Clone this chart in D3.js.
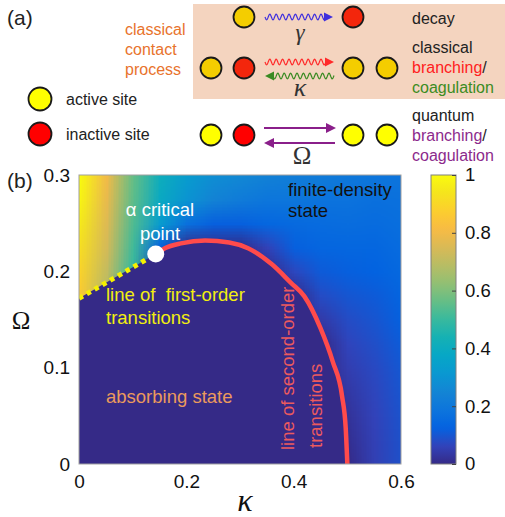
<!DOCTYPE html>
<html>
<head>
<meta charset="utf-8" />
<title>Phase diagram</title>
<script src="https://d3js.org/d3.v7.min.js"></script>
<style>
  body { margin: 0; background: white; }
  text { font-family: "Liberation Sans", Arial, sans-serif; }
</style>
</head>
<body>
<svg id="chart" width=505 height=517></svg>
<script>

// ---- data ----
var kappaTicks = [0, 0.2, 0.4, 0.6];
var omegaTicks = [0, 0.1, 0.2, 0.3];
var cbarTicks = [0, 0.2, 0.4, 0.6, 0.8, 1];

// line of first-order transitions (kappa, Omega)
var firstOrderKappa = [0, 0.143];
var firstOrderOmega = [0.172, 0.218];

// line of second-order transitions
var secondOrderKappa = [0.143, 0.16, 0.19, 0.235, 0.28, 0.315, 0.36, 0.395, 0.42, 0.45, 0.473, 0.49, 0.497, 0.5];
var secondOrderOmega = [0.218, 0.224, 0.229, 0.232, 0.230, 0.224, 0.207, 0.188, 0.174, 0.141, 0.106, 0.071, 0.037, 0];

// density samples, one row per Omega, one column per kappa
var gridKappa = [0, 0.05, 0.1, 0.15, 0.2, 0.25, 0.3, 0.35, 0.4, 0.45, 0.5, 0.55, 0.6];
var gridOmega = [0, 0.025, 0.05, 0.075, 0.1, 0.125, 0.15, 0.175, 0.2, 0.225, 0.25, 0.275, 0.3];
var density = [
  [0, 0, 0, 0, 0, 0, 0, 0, 0, 0, 0, 0.055, 0.088],
  [0, 0, 0, 0, 0, 0, 0, 0, 0, 0, 0.012, 0.058, 0.09],
  [0, 0, 0, 0, 0, 0, 0, 0, 0, 0, 0.022, 0.062, 0.093],
  [0, 0, 0, 0, 0, 0, 0, 0, 0, 0, 0.036, 0.068, 0.097],
  [0, 0, 0, 0, 0, 0, 0, 0, 0, 0, 0.05, 0.075, 0.103],
  [0, 0, 0, 0, 0, 0, 0, 0, 0, 0, 0.065, 0.085, 0.112],
  [0.84, 0, 0, 0, 0, 0, 0, 0, 0, 0.04, 0.08, 0.097, 0.122],
  [0.86, 0.68, 0, 0, 0, 0, 0, 0, 0, 0.08, 0.1, 0.11, 0.132],
  [0.89, 0.71, 0.49, 0, 0, 0, 0, 0, 0.07, 0.11, 0.12, 0.125, 0.145],
  [0.92, 0.74, 0.51, 0.12, 0, 0, 0, 0.06, 0.12, 0.135, 0.14, 0.14, 0.155],
  [0.95, 0.76, 0.53, 0.33, 0.17, 0.12, 0.12, 0.14, 0.15, 0.155, 0.16, 0.155, 0.165],
  [0.98, 0.78, 0.55, 0.39, 0.3, 0.24, 0.21, 0.19, 0.19, 0.18, 0.18, 0.17, 0.175],
  [1.0, 0.8, 0.56, 0.41, 0.33, 0.28, 0.26, 0.235, 0.22, 0.21, 0.2, 0.19, 0.185]
];

// parula colormap
var parula = ["#352a87", "#3243ba", "#0363e1", "#0d75dc", "#1485d4", "#0998d1", "#06a7c6", "#15b1b4",
  "#38b99e", "#65be86", "#92bf73", "#b7bd64", "#d9ba56", "#f8bb44", "#fcce2e", "#f5e41d", "#f9fb0e"];

var svg = d3.select("#chart");
var plotL = 79, plotR = 401, plotT = 175, plotB = 464;

var x = d3.scaleLinear().domain([0, 0.6]).range([plotL, plotR]);
var y = d3.scaleLinear().domain([0, 0.3]).range([plotB, plotT]);
var cy = d3.scaleLinear().domain([0, 1]).range([plotB, plotT]);
var color = d3.scaleLinear()
  .domain(parula.map(function(d, i) { return i / (parula.length - 1); }))
  .range(parula)
  .clamp(true);

// ---------- panel (a) ----------
var pa = svg.append("g");

pa.append("rect").attr("x", 193).attr("y", 4).attr("width", 312).attr("height", 95)
  .attr("fill", "#f4d4bf");

pa.append("text").attr("x", 7).attr("y", 18).attr("dy", "0.35em")
  .attr("font-size", 21).attr("fill", "#222").text("(a)");

["classical", "contact", "process"].forEach(function(t, i) {
  pa.append("text").attr("x", 125).attr("y", 29 + i * 20).attr("dy", "0.35em")
    .attr("font-size", 16).attr("fill", "#e8732c").text(t);
});

function site(g, cx, cyy, r, fill) {
  g.append("circle").attr("cx", cx).attr("cy", cyy).attr("r", r)
    .attr("fill", fill).attr("stroke", "#1a1a1a").attr("stroke-width", 1.8);
}

var gold = "#f4cd00", redBox = "#f3260c", yel = "#ffff00", red = "#ff0000";

site(pa, 40, 99, 11.5, yel);
site(pa, 40, 134, 11.5, red);
pa.append("text").attr("x", 66).attr("y", 99).attr("dy", "0.35em").attr("font-size", 16)
  .attr("fill", "#222").text("active site");
pa.append("text").attr("x", 66).attr("y", 134).attr("dy", "0.35em").attr("font-size", 16)
  .attr("fill", "#222").text("inactive site");

site(pa, 244, 17, 10.5, gold); site(pa, 353, 17, 10.5, redBox);
site(pa, 211, 68, 10.5, gold); site(pa, 244, 68, 10.5, redBox);
site(pa, 353, 68, 10.5, gold); site(pa, 387, 68, 10.5, gold);
site(pa, 211, 135, 10.5, yel); site(pa, 244, 135, 10.5, red);
site(pa, 353, 135, 10.5, yel); site(pa, 387, 135, 10.5, yel);

function head(g, tipX, yy, dir, len, half, col) {
  g.append("path")
    .attr("d", "M" + tipX + "," + yy + "L" + (tipX - dir * len) + "," + (yy - half) +
      "L" + (tipX - dir * len) + "," + (yy + half) + "Z")
    .attr("fill", col);
}

function wavy(g, x1, x2, yy, col, dir) {
  // wavy arrow from x1 to x2; dir = 1 points right, -1 points left
  var a = dir > 0 ? x1 : x1 + 8, b = dir > 0 ? x2 - 8 : x2;
  var pts = d3.range(a, b + 0.01, 0.5).map(function(px) {
    return [px, yy + 2.8 * Math.sin((px - a) / 6.4 * 2 * Math.PI)];
  });
  g.append("path").attr("d", d3.line()(pts)).attr("fill", "none")
    .attr("stroke", col).attr("stroke-width", 1.2);
  head(g, dir > 0 ? x2 : x1, yy, dir, 9, 4.5, col);
}

wavy(pa, 265, 333, 17, "#4030dd", 1);
wavy(pa, 265, 334, 62, "#ff2a2a", 1);
wavy(pa, 265, 334, 76, "#3a8a22", -1);

pa.append("line").attr("x1", 264).attr("x2", 328).attr("y1", 128).attr("y2", 128)
  .attr("stroke", "#8a1f8a").attr("stroke-width", 2);
head(pa, 336, 128, 1, 10, 5, "#8a1f8a");
pa.append("line").attr("x1", 272).attr("x2", 335).attr("y1", 143).attr("y2", 143)
  .attr("stroke", "#8a1f8a").attr("stroke-width", 2);
head(pa, 264, 143, -1, 10, 5, "#8a1f8a");

pa.append("text").attr("x", 300).attr("y", 35).attr("dy", "0.2em").attr("text-anchor", "middle")
  .style("font-family", "'Liberation Serif', serif").style("font-style", "italic")
  .attr("font-size", 23).attr("fill", "#333").text("γ");
pa.append("text").attr("x", 300).attr("y", 87).attr("dy", "0.35em").attr("text-anchor", "middle")
  .style("font-family", "'Liberation Serif', serif").style("font-style", "italic")
  .attr("font-size", 26).attr("fill", "#333").text("κ");
pa.append("text").attr("x", 302).attr("y", 155).attr("dy", "0.35em").attr("text-anchor", "middle")
  .style("font-family", "'Liberation Serif', serif")
  .attr("font-size", 25).attr("fill", "#333").text("Ω");

function label(yy, parts) {
  var t = pa.append("text").attr("x", 412).attr("y", yy).attr("dy", "0.35em").attr("font-size", 16);
  parts.forEach(function(p) { t.append("tspan").attr("fill", p[1]).text(p[0]); });
}
label(18, [["decay", "#222"]]);
label(47, [["classical", "#222"]]);
label(67, [["branching", "#ff2020"], ["/", "#222"]]);
label(87, [["coagulation", "#3c8c22"]]);
label(115, [["quantum", "#222"]]);
label(135, [["branching", "#8c2a8c"], ["/", "#222"]]);
label(155, [["coagulation", "#8c2a8c"]]);

// ---------- panel (b) ----------
svg.append("text").attr("x", 7).attr("y", 181).attr("dy", "0.35em")
  .attr("font-size", 21).attr("fill", "#222").text("(b)");

// heat map: sample grid painted on a small canvas, smoothed up to plot size
var nx = gridKappa.length, ny = gridOmega.length;
var W = plotR - plotL, H = plotB - plotT;
var small = document.createElement("canvas");
small.width = nx; small.height = ny;
var sctx = small.getContext("2d");
var img = sctx.createImageData(nx, ny);
density.forEach(function(row, j) {
  row.forEach(function(v, i) {
    var c = d3.rgb(color(v));
    var k = ((ny - 1 - j) * nx + i) * 4;
    img.data[k] = c.r; img.data[k + 1] = c.g; img.data[k + 2] = c.b; img.data[k + 3] = 255;
  });
});
sctx.putImageData(img, 0, 0);
var big = document.createElement("canvas");
big.width = W; big.height = H;
var bctx = big.getContext("2d");
bctx.imageSmoothingEnabled = true;
bctx.imageSmoothingQuality = "low";
var cw = (x(gridKappa[1]) - x(gridKappa[0])), ch = (y(gridOmega[0]) - y(gridOmega[1]));
bctx.drawImage(small, -cw / 2, -ch / 2, nx * cw, ny * ch);

svg.append("clipPath").attr("id", "plotclip").append("rect")
  .attr("x", plotL).attr("y", plotT).attr("width", W).attr("height", H);

var pb = svg.append("g").attr("clip-path", "url(#plotclip)");
pb.append("image").attr("href", big.toDataURL()).attr("x", plotL).attr("y", plotT)
  .attr("width", W).attr("height", H);

// absorbing region
var second = secondOrderKappa.map(function(k, i) { return [k, secondOrderOmega[i]]; });
var line = d3.line().x(function(d) { return x(d[0]); }).y(function(d) { return y(d[1]); })
  .curve(d3.curveMonotoneX);
var absorbing = line(second) + "L" + x(0.5) + "," + y(0) + "L" + x(0) + "," + y(0) +
  "L" + x(firstOrderKappa[0]) + "," + y(firstOrderOmega[0]) + "Z";
pb.append("path").attr("d", absorbing).attr("fill", parula[0]);

svg.append("rect").attr("x", plotL).attr("y", plotT).attr("width", W).attr("height", H)
  .attr("fill", "none").attr("stroke", "#a0a0a0").attr("stroke-width", 1);

pb.append("path").attr("d", line(second)).attr("fill", "none")
  .attr("stroke", "#ff4b4b").attr("stroke-width", 4.5);

pb.append("line")
  .attr("x1", x(firstOrderKappa[0])).attr("y1", y(firstOrderOmega[0]))
  .attr("x2", x(firstOrderKappa[1])).attr("y2", y(firstOrderOmega[1]))
  .attr("stroke", "#f6f000").attr("stroke-width", 5).attr("stroke-dasharray", "4.5,4.5");

pb.append("circle").attr("cx", x(firstOrderKappa[1])).attr("cy", y(firstOrderOmega[1]))
  .attr("r", 8.5).attr("fill", "white");

// annotations
function note(tx, ty, str, col, anchor) {
  svg.append("text").attr("x", tx).attr("y", ty).attr("dy", "0.35em")
    .attr("font-size", 18.5).attr("fill", col).attr("text-anchor", anchor || "start").text(str);
}
note(160, 210, "α critical", "white", "middle");
note(160, 234, "point", "white", "middle");
note(106, 295, "line of\u00a0 first-order", "#f2ee10");
note(106, 318, "transitions", "#f2ee10");
note(106, 397, "absorbing state", "#eb9a5c");
note(288, 190, "finite-density", "#111");
note(288, 211, "state", "#111");

[["line of second-order", 288, 450], ["transitions", 316, 448]].forEach(function(d) {
  svg.append("text").attr("transform", "translate(" + d[1] + "," + d[2] + ") rotate(-90)")
    .attr("dy", "0.35em").attr("font-size", 18.5).attr("fill", "#ec5a5e").text(d[0]);
});

// axes
function fmt(d) { return d === 0 ? "0" : (d === 1 ? "1" : d.toFixed(1)); }

var xAxis = svg.append("g").attr("transform", "translate(0," + plotB + ")")
  .call(d3.axisBottom(x).tickValues(kappaTicks).tickFormat(fmt).tickSize(0).tickPadding(11));
var yAxis = svg.append("g").attr("transform", "translate(" + plotL + ",0)")
  .call(d3.axisLeft(y).tickValues(omegaTicks).tickFormat(fmt).tickSize(0).tickPadding(9));
[xAxis, yAxis].forEach(function(a) {
  a.select(".domain").remove();
  a.selectAll("text").attr("font-size", 19).attr("fill", "#111")
    .style("font-family", "'Liberation Sans', Arial, sans-serif");
});

svg.append("text").attr("x", 245).attr("y", 505).attr("dy", "0.2em").attr("text-anchor", "middle")
  .style("font-family", "'Liberation Serif', serif").style("font-style", "italic")
  .attr("font-size", 32).attr("fill", "#111").text("κ");
svg.append("text").attr("x", 21).attr("y", 320).attr("dy", "0.35em").attr("text-anchor", "middle")
  .style("font-family", "'Liberation Serif', serif")
  .attr("font-size", 25).attr("fill", "#111").text("Ω");

// colorbar
var grad = svg.append("defs").append("linearGradient").attr("id", "cbar")
  .attr("x1", 0).attr("y1", 1).attr("x2", 0).attr("y2", 0);
grad.selectAll("stop").data(d3.range(0, 1.0001, 0.02)).enter().append("stop")
  .attr("offset", function(d) { return d; })
  .attr("stop-color", function(d) { return color(d); });

svg.append("rect").attr("x", 431).attr("y", plotT).attr("width", 25).attr("height", H)
  .attr("fill", "url(#cbar)").attr("stroke", "#808080").attr("stroke-width", 1);

var cAxis = svg.append("g").attr("transform", "translate(456,0)")
  .call(d3.axisRight(cy).tickValues(cbarTicks).tickFormat(fmt).tickSizeInner(-4).tickSizeOuter(0).tickPadding(9));
cAxis.select(".domain").remove();
cAxis.selectAll("line").attr("stroke", "#444");
cAxis.selectAll("text").attr("font-size", 18.5).attr("fill", "#111")
  .style("font-family", "'Liberation Sans', Arial, sans-serif");

</script>
</body>
</html>
